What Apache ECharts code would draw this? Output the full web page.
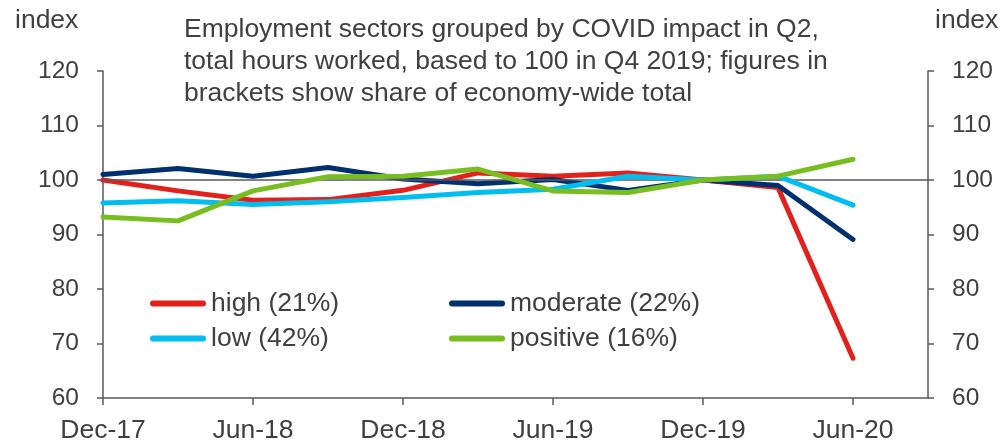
<!DOCTYPE html>
<html>
<head>
<meta charset="utf-8">
<script src="https://cdn.jsdelivr.net/npm/echarts@6/dist/echarts.min.js"></script>
<style>html,body{margin:0;padding:0;background:#fff}#c{width:1004px;height:442px}</style>
</head>
<body>
<div id="c"></div>
<script>
const categories = ['Dec-17','Mar-18','Jun-18','Sep-18','Dec-18','Mar-19','Jun-19','Sep-19','Dec-19','Mar-20','Jun-20','Sep-20'];
const high = [100.0, 98.0, 96.3, 96.4, 98.1, 101.3, 100.7, 101.3, 100.0, 98.6, 67.3];
const moderate = [101.0, 102.1, 100.7, 102.3, 100.2, 99.3, 100.1, 98.1, 100.0, 99.0, 89.1];
const low = [95.8, 96.2, 95.5, 96.0, 96.8, 97.7, 98.3, 100.7, 100.0, 100.7, 95.4];
const positive = [93.2, 92.5, 98.0, 100.6, 100.7, 102.0, 98.0, 97.7, 100.0, 100.7, 103.8];
const seriesNames = ['high (21%)', 'moderate (22%)', 'low (42%)', 'positive (16%)'];
const seriesColors = ['#E3211C', '#00306E', '#00BEF0', '#78BE20'];
const yTicks = [60, 70, 80, 90, 100, 110, 120];
const titleText = 'Employment sectors grouped by COVID impact in Q2,\ntotal hours worked, based to 100 in Q4 2019; figures in\nbrackets show share of economy-wide total';

const FONT = '"Liberation Sans", Arial, sans-serif';
const TXT = '#404040';
const AX = '#595959';

const chart = echarts.init(document.getElementById('c'), null, {renderer: 'canvas'});
const dataSets = [high, moderate, low, positive];

function yAxisCfg(pos) {
  return {
    type: 'value', position: pos,
    min: yTicks[0], max: yTicks[yTicks.length - 1], interval: 10,
    splitLine: {show: false},
    axisLine: {show: true, lineStyle: {color: AX, width: 1.5}},
    axisTick: {show: true, inside: false, length: 6, lineStyle: {color: AX, width: 1.5}},
    axisLabel: {show: true, margin: 24, color: TXT, fontSize: 24.5, fontFamily: FONT, padding: [0, 0, 4, 0]}
  };
}

const series = dataSets.map((d, i) => ({
  name: seriesNames[i],
  type: 'line',
  data: d,
  symbol: 'none',
  showSymbol: false,
  color: seriesColors[i],
  itemStyle: {color: seriesColors[i]},
  lineStyle: {width: 5, color: seriesColors[i], cap: 'round', join: 'round'},
  z: 3 + i,
  animation: false
}));
series.unshift({
  name: 'ref', type: 'line', data: [], z: 1, animation: false,
  markLine: {
    silent: true, symbol: ['none', 'none'], label: {show: false},
    lineStyle: {color: AX, width: 1.5, type: 'solid'},
    data: [{yAxis: 100}]
  }
});

const legendBase = {
  orient: 'vertical', itemWidth: 56, itemHeight: 6, itemGap: 8,
  icon: 'path://M3,0 L53,0 A3,3 0 0 1 53,6 L3,6 A3,3 0 0 1 3,0 Z',
  textStyle: {color: TXT, fontSize: 26.5, fontFamily: FONT},
  padding: 0, selectedMode: false
};

chart.setOption({
  animation: false,
  backgroundColor: '#fff',
  title: {
    text: titleText, left: 184, top: 14, padding: 0,
    textStyle: {color: TXT, fontSize: 26.5, lineHeight: 32, fontWeight: 'normal', fontFamily: FONT}
  },
  graphic: [
    {type: 'text', left: 15, top: 7, style: {text: 'index', fill: TXT, fontSize: 26.5, fontFamily: FONT}},
    {type: 'text', left: 935, top: 7, style: {text: 'index', fill: TXT, fontSize: 26.5, fontFamily: FONT}}
  ],
  legend: [
    Object.assign({}, legendBase, {left: 150, top: 290, data: [seriesNames[0], seriesNames[2]]}),
    Object.assign({}, legendBase, {left: 449, top: 290, data: [seriesNames[1], seriesNames[3]]})
  ],
  grid: {left: 103, right: 76, top: 71, bottom: 44, containLabel: false, outerBoundsMode: 'none'},
  xAxis: {
    type: 'category', data: categories, boundaryGap: false,
    axisLine: {show: true, onZero: false, lineStyle: {color: AX, width: 1.5}},
    axisTick: {show: true, interval: 1, length: 7, lineStyle: {color: AX, width: 1.5}},
    axisLabel: {interval: 1, margin: 19, color: TXT, fontSize: 26.5, fontFamily: FONT},
    splitLine: {show: false}
  },
  yAxis: [yAxisCfg('left'), yAxisCfg('right')],
  series: series
});
</script>
</body>
</html>
